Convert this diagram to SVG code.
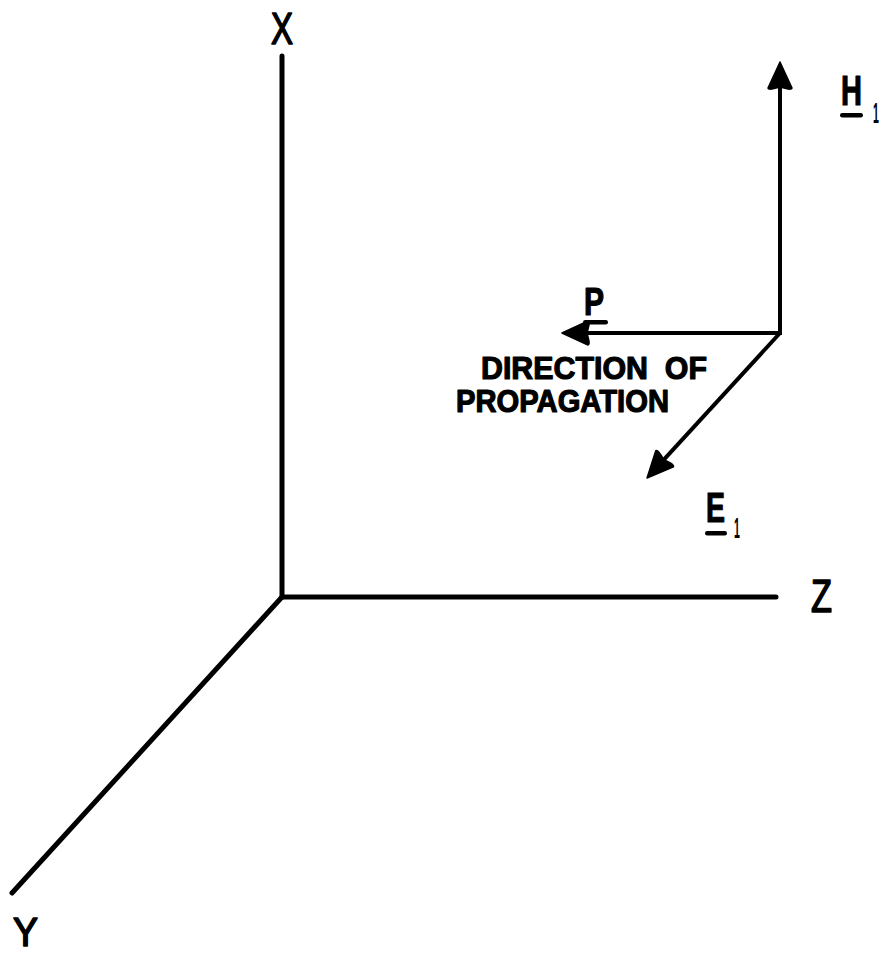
<svg xmlns="http://www.w3.org/2000/svg" width="882" height="956" viewBox="0 0 882 956">
<style>
.axis{stroke:#000;stroke-width:5;fill:none;stroke-linecap:round}
.vec{stroke:#000;stroke-width:4;fill:none}
.ax{font-family:"Liberation Sans",Arial,sans-serif;font-weight:normal;fill:#000;stroke:#000;stroke-width:1.6;stroke-linejoin:round}
.lb{font-family:"Liberation Sans",Arial,sans-serif;font-weight:bold;fill:#000;stroke:#000;stroke-width:1.2;stroke-linejoin:round}
.sub{font-family:"Liberation Sans",Arial,sans-serif;font-weight:bold;font-size:30px;fill:#000}
.ul{fill:#000}
</style>
<defs>
<marker id="arr" viewBox="-32 -14 34 28" refX="-10" refY="0" markerWidth="34" markerHeight="28" orient="auto" markerUnits="userSpaceOnUse">
<path d="M0,0 L-26,-12 Q-28,-11.5 -26.5,-6 L-25,0 L-26.5,6 Q-28,11.5 -26,12 Z" fill="#000" stroke="#000" stroke-width="1.5" stroke-linejoin="round"/>
</marker>
</defs>
<rect width="882" height="956" fill="#fff"/>
<g id="connectors">
<line class="axis" x1="282" y1="56" x2="282" y2="597"/>
<line class="axis" x1="282" y1="597" x2="776" y2="597"/>
<line class="axis" x1="282" y1="597" x2="12" y2="893"/>
<line class="vec" x1="780" y1="335" x2="780" y2="72" marker-end="url(#arr)"/>
<line class="vec" x1="780" y1="333" x2="572" y2="333" marker-end="url(#arr)"/>
<line class="vec" x1="780" y1="333" x2="653.8" y2="470.6" marker-end="url(#arr)"/>
</g>
<g id="x-label"><text class="ax" x="271" y="44" font-size="44" textLength="22" lengthAdjust="spacingAndGlyphs">X</text></g>
<g id="z-label"><text class="ax" x="811" y="612" font-size="46" textLength="21" lengthAdjust="spacingAndGlyphs">Z</text></g>
<g id="y-label"><text class="ax" x="13" y="946" font-size="40" textLength="25" lengthAdjust="spacingAndGlyphs">Y</text></g>
<g id="h-label">
<text class="lb" x="841" y="105" font-size="43" textLength="21" lengthAdjust="spacingAndGlyphs">H</text>
<rect class="ul" x="840" y="113" width="23" height="4.5" rx="2.2"/>
<text class="sub" transform="translate(873,123) scale(0.35,1)" x="0" y="0">1</text>
</g>
<g id="p-label">
<text class="lb" x="584" y="315" font-size="38" textLength="20" lengthAdjust="spacingAndGlyphs">P</text>
<rect class="ul" x="583" y="320" width="25" height="4.5" rx="2.2"/>
</g>
<g id="e-label">
<text class="lb" x="706" y="522" font-size="43" textLength="19" lengthAdjust="spacingAndGlyphs">E</text>
<rect class="ul" x="705" y="531" width="22" height="4.5" rx="2.2"/>
<text class="sub" transform="translate(734,538) scale(0.35,1)" x="0" y="0">1</text>
</g>
<g id="direction-label">
<text class="lb" x="481" y="379" font-size="32" textLength="226" lengthAdjust="spacingAndGlyphs" xml:space="preserve">DIRECTION  OF</text>
<text class="lb" x="456" y="412" font-size="32" textLength="213" lengthAdjust="spacingAndGlyphs">PROPAGATION</text>
</g>
</svg>
